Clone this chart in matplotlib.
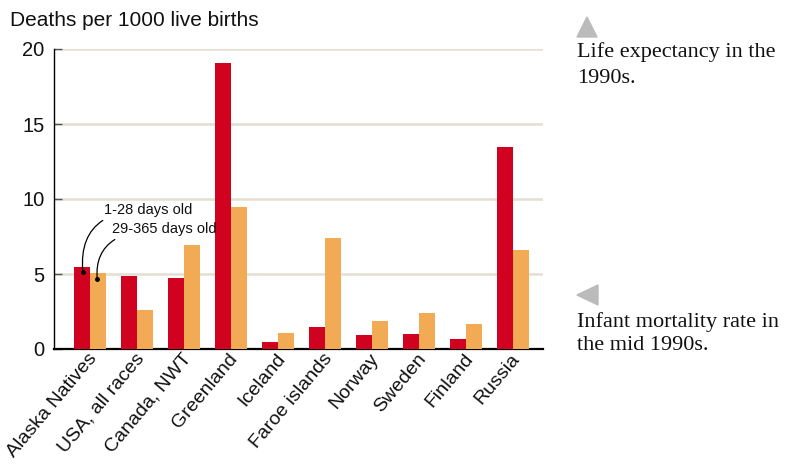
import matplotlib
matplotlib.use("Agg")
import matplotlib.pyplot as plt
import matplotlib.transforms as mtrans
import numpy as np

categories = ["Alaska Natives", "USA, all races", "Canada, NWT", "Greenland", "Iceland",
              "Faroe islands", "Norway", "Sweden", "Finland", "Russia"]
neonatal = [5.5, 4.9, 4.75, 19.1, 0.5, 1.5, 0.95, 1.0, 0.7, 13.5]      # 1-28 days old
postneonatal = [5.1, 2.6, 6.95, 9.45, 1.07, 7.4, 1.9, 2.4, 1.7, 6.6]  # 29-365 days old
yticks = [0, 5, 10, 15, 20]

RED = "#d0021f"
ORANGE = "#f2aa55"
GRID = "#e4dfd3"

plt.rcParams["font.family"] = ["Liberation Sans", "DejaVu Sans"]

fig = plt.figure(figsize=(8.08, 4.66), dpi=100)
ax = fig.add_axes([54 / 808, 1 - 349 / 466, (543 - 54) / 808, 300 / 466])

x = np.arange(len(categories))
w = 16 / 47
ax.bar(x - w / 2, neonatal, width=w, color=RED, zorder=3)
ax.bar(x + w / 2, postneonatal, width=w, color=ORANGE, zorder=3)

ax.set_xlim(-0.766, 9.638)
ax.set_ylim(0, 20)
ax.set_yticks(yticks)
ax.set_yticklabels([str(t) for t in yticks], fontsize=14.5, color="#111111")
for t in yticks[1:]:
    ax.axhline(t, color=GRID, lw=1.8, zorder=1)

ax.tick_params(axis="y", direction="in", length=6, width=1, color="#555555", pad=7)
ax.tick_params(axis="x", length=0, pad=4)
ax.set_xticks(x)
ax.set_xticklabels(categories, rotation=50, ha="right", va="center",
                   rotation_mode="anchor", fontsize=14, color="#111111")

for s in ["top", "right"]:
    ax.spines[s].set_visible(False)
ax.spines["left"].set_color("black")
ax.spines["left"].set_linewidth(1.0)
ax.spines["bottom"].set_color("black")
ax.spines["bottom"].set_linewidth(1.6)

offset = mtrans.ScaledTranslation(4 / 100, -1 / 100, fig.dpi_scale_trans)
for lbl in ax.get_xticklabels():
    lbl.set_transform(lbl.get_transform() + offset)

fig.text(10 / 808, 1 - 26 / 466, "Deaths per 1000 live births", fontsize=15,
         ha="left", va="baseline", color="#111111")

# legend-like annotations
ax.annotate("1-28 days old", xy=(x[0] - w * 0.45, neonatal[0] - 0.35),
            xytext=(0.30, 9.27), fontsize=10.5, ha="left", va="center",
            color="#111111",
            arrowprops=dict(arrowstyle="-", color="black", lw=0.9,
                            connectionstyle="angle3,angleA=0,angleB=95",
                            shrinkA=1, shrinkB=0))
ax.annotate("29-365 days old", xy=(x[0] + w * 0.45, postneonatal[0] - 0.45),
            xytext=(0.47, 8.0), fontsize=10.5, ha="left", va="center",
            color="#111111",
            arrowprops=dict(arrowstyle="-", color="black", lw=0.9,
                            connectionstyle="angle3,angleA=0,angleB=95",
                            shrinkA=1, shrinkB=0))
ax.plot([x[0] - w * 0.45, x[0] + w * 0.45],
        [neonatal[0] - 0.35, postneonatal[0] - 0.45], "o", color="black",
        ms=2.5, zorder=5)

# right-side captions
serif = ["Liberation Serif", "DejaVu Serif"]
fig.patches.append(plt.Polygon([[577 / 808, 1 - 37 / 466], [597 / 808, 1 - 37 / 466],
                                [587 / 808, 1 - 17 / 466]], closed=True,
                               transform=fig.transFigure, color="#bbbbbb"))
fig.text(577 / 808, 1 - 57 / 466, "Life expectancy in the", fontsize=16,
         family=serif, ha="left", va="baseline", color="#111111")
fig.text(577 / 808, 1 - 83 / 466, "1990s.", fontsize=16,
         family=serif, ha="left", va="baseline", color="#111111")

fig.patches.append(plt.Polygon([[577 / 808, 1 - 295 / 466], [598 / 808, 1 - 285 / 466],
                                [598 / 808, 1 - 305 / 466]], closed=True,
                               transform=fig.transFigure, color="#bbbbbb"))
fig.text(577 / 808, 1 - 327 / 466, "Infant mortality rate in", fontsize=16,
         family=serif, ha="left", va="baseline", color="#111111")
fig.text(577 / 808, 1 - 350 / 466, "the mid 1990s.", fontsize=16,
         family=serif, ha="left", va="baseline", color="#111111")

fig.savefig("out.png", dpi=100)
